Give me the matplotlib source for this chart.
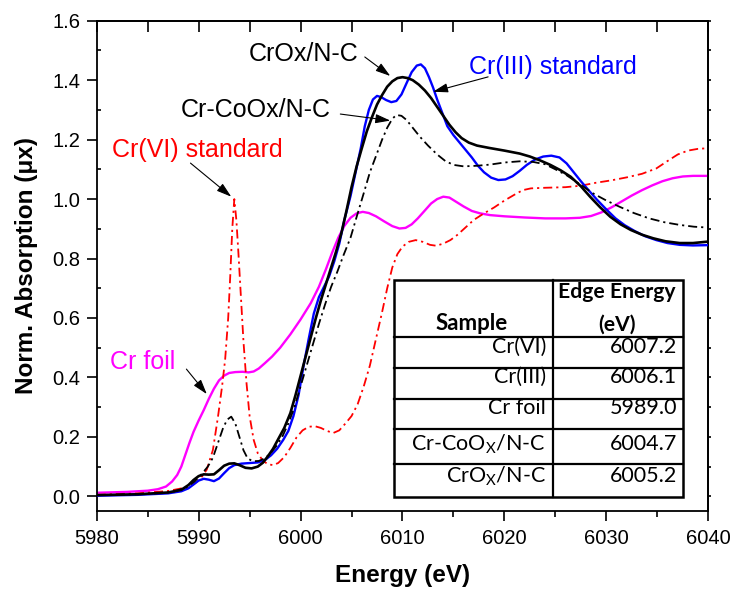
import numpy as np
import matplotlib
matplotlib.use("Agg")
import matplotlib.pyplot as plt
from matplotlib.ticker import MultipleLocator, NullLocator, FormatStrFormatter

plt.rcParams['font.family'] = ['Liberation Sans', 'DejaVu Sans']
plt.rcParams['mathtext.fontset'] = 'custom'
plt.rcParams['mathtext.rm'] = 'Lato'
plt.rcParams['mathtext.bf'] = 'Lato:bold'

# ---- Cr K-edge XANES spectra (energy in eV, normalized absorption) ----
foil_E = [5980, 5983, 5985, 5986, 5986.8, 5987.4, 5987.9, 5988.3, 5988.7, 5989.1,
          5989.5, 5990.0, 5990.5, 5991.0, 5991.5, 5992.0, 5992.5, 5993.0, 5993.6, 5994.3,
          5994.9, 5995.4, 5995.9, 5996.5, 5997.2, 5998.0, 5999.0, 6000.0, 6001.0, 6001.8,
          6002.5, 6003.1, 6003.7, 6004.3, 6004.9, 6005.5, 6006.1, 6006.7, 6007.4, 6008.2,
          6009.0, 6009.7, 6010.3, 6010.9, 6011.5, 6012.1, 6012.8, 6013.4, 6014.0, 6014.6,
          6015.3, 6016.0, 6016.8, 6017.6, 6018.6, 6020.0, 6022.0, 6024.0, 6026.0, 6027.4,
          6028.5, 6029.5, 6030.5, 6031.5, 6032.5, 6033.5, 6034.5, 6035.5, 6036.5, 6037.5,
          6038.5, 6040]
foil_mu = [0.012, 0.015, 0.019, 0.024, 0.033, 0.05, 0.072, 0.1, 0.14, 0.18,
           0.217, 0.255, 0.29, 0.328, 0.362, 0.39, 0.406, 0.415, 0.418, 0.419,
           0.417, 0.42, 0.43, 0.448, 0.47, 0.5, 0.545, 0.595, 0.65, 0.705,
           0.765, 0.82, 0.87, 0.91, 0.937, 0.952, 0.957, 0.953, 0.942, 0.925,
           0.909, 0.901, 0.903, 0.915, 0.935, 0.958, 0.985, 1.0, 1.008, 1.005,
           0.99, 0.975, 0.96, 0.952, 0.946, 0.942, 0.938, 0.935, 0.935, 0.937,
           0.943, 0.955, 0.972, 0.992, 1.012, 1.03, 1.046, 1.06, 1.07, 1.076,
           1.078, 1.078]

cr6_E = [5980, 5984, 5987, 5988.5, 5989.5, 5990.2, 5990.8, 5991.4, 5991.9, 5992.3,
         5992.6, 5992.9, 5993.1, 5993.3, 5993.5, 5993.7, 5993.9, 5994.1, 5994.4, 5994.7,
         5995.0, 5995.4, 5995.8, 5996.3, 5996.8, 5997.3, 5997.8, 5998.4, 5999.0, 5999.6,
         6000.2, 6000.8, 6001.4, 6002.0, 6002.6, 6003.2, 6003.8, 6004.4, 6005.0, 6005.6,
         6006.2, 6006.8, 6007.4, 6008.0, 6008.5, 6009.0, 6009.5, 6010.0, 6010.6, 6011.3,
         6012.0, 6012.7, 6013.3, 6014.0, 6014.7, 6015.4, 6016.2, 6017.0, 6018.0, 6019.0,
         6020.0, 6021.0, 6021.8, 6022.6, 6024.0, 6026.0, 6027.5, 6029.0, 6030.5, 6032.0,
         6033.5, 6034.9, 6036.0, 6037.0, 6038.0, 6039.0, 6040]
cr6_mu = [0.005, 0.01, 0.018, 0.028, 0.04, 0.06, 0.09, 0.156, 0.268, 0.37,
          0.46, 0.6, 0.74, 0.9, 1.0, 0.93, 0.82, 0.7, 0.52, 0.38,
          0.27, 0.19, 0.145, 0.12, 0.108, 0.105, 0.112, 0.132, 0.163, 0.198,
          0.222, 0.234, 0.236, 0.23, 0.22, 0.213, 0.222, 0.245, 0.27, 0.31,
          0.37, 0.44, 0.53, 0.62, 0.7, 0.77, 0.815, 0.84, 0.856, 0.862,
          0.856, 0.846, 0.843, 0.85, 0.862, 0.88, 0.905, 0.93, 0.952, 0.972,
          0.995, 1.015, 1.03, 1.036, 1.038, 1.04, 1.045, 1.055, 1.063, 1.073,
          1.085, 1.103, 1.128, 1.15, 1.163, 1.169, 1.171]

cr3_E = [5980, 5984, 5987, 5988.3, 5989.0, 5989.5, 5990.0, 5990.5, 5991.0, 5991.5,
         5992.0, 5992.5, 5993.0, 5993.5, 5994.2, 5995.0, 5995.8, 5996.5, 5997.1, 5997.7,
         5998.3, 5998.8, 5999.3, 5999.8, 6000.3, 6000.8, 6001.3, 6001.8, 6002.3, 6002.8,
         6003.3, 6003.8, 6004.3, 6004.9, 6005.4, 6005.9, 6006.3, 6006.7, 6007.1, 6007.5,
         6007.9, 6008.4, 6008.9, 6009.4, 6009.9, 6010.4, 6010.9, 6011.4, 6011.8, 6012.2,
         6012.6, 6013.0, 6013.4, 6013.9, 6014.4, 6015.0, 6015.6, 6016.2, 6016.8, 6017.4,
         6018.0, 6018.7, 6019.4, 6020.1, 6020.8, 6021.5, 6022.2, 6023.0, 6023.8, 6024.6,
         6025.4, 6026.1, 6026.8, 6027.5, 6028.3, 6029.1, 6030.0, 6030.9, 6031.8, 6032.8,
         6033.8, 6034.9, 6036.0, 6037.2, 6038.5, 6040]
cr3_mu = [0.002, 0.005, 0.01, 0.017, 0.027, 0.04, 0.053, 0.059, 0.056, 0.051,
          0.06, 0.078, 0.095, 0.105, 0.11, 0.112, 0.114, 0.122, 0.138, 0.16,
          0.19, 0.22, 0.27, 0.34, 0.44, 0.53, 0.615, 0.67, 0.705, 0.74,
          0.79, 0.85, 0.93, 1.01, 1.09, 1.17, 1.245, 1.3, 1.335, 1.347,
          1.343, 1.333, 1.326, 1.33, 1.352, 1.39, 1.427, 1.449, 1.453, 1.44,
          1.41, 1.375, 1.335, 1.29, 1.245, 1.215, 1.19, 1.165, 1.14, 1.112,
          1.09, 1.072, 1.064, 1.066, 1.077, 1.095, 1.115, 1.133, 1.143, 1.146,
          1.14, 1.12, 1.09, 1.06, 1.028, 0.997, 0.965, 0.935, 0.912, 0.892,
          0.875, 0.862, 0.852, 0.846, 0.844, 0.845]

crco_E = [5980, 5985, 5987.5, 5988.8, 5989.6, 5990.3, 5990.9, 5991.4, 5991.9, 5992.4,
          5992.8, 5993.2, 5993.6, 5994.0, 5994.4, 5994.8, 5995.3, 5995.9, 5996.5, 5997.0,
          5997.6, 5998.2, 5998.8, 5999.4, 6000.0, 6000.6, 6001.2, 6001.8, 6002.4, 6003.0,
          6003.6, 6004.2, 6004.9, 6005.5, 6006.2, 6006.8, 6007.5, 6008.0, 6008.5, 6009.0,
          6009.4, 6009.9, 6010.4, 6011.0, 6011.7, 6012.5, 6013.4, 6014.2, 6015.0, 6016.0,
          6017.3, 6018.6, 6020.0, 6021.5, 6022.8, 6024.0, 6025.0, 6026.1, 6027.4, 6028.7,
          6030.0, 6031.3, 6032.7, 6034.2, 6035.7, 6037.2, 6038.6, 6040]
crco_mu = [0.004, 0.008, 0.015, 0.03, 0.05, 0.075, 0.1, 0.13, 0.18, 0.23,
           0.258, 0.268, 0.245, 0.2, 0.155, 0.128, 0.118, 0.119, 0.128, 0.143,
           0.168, 0.2, 0.245, 0.3, 0.37, 0.44, 0.51, 0.58, 0.645, 0.705,
           0.755, 0.81, 0.87, 0.94, 1.02, 1.09, 1.154, 1.2, 1.24, 1.27,
           1.283, 1.28, 1.266, 1.24, 1.21, 1.18, 1.15, 1.128, 1.115, 1.11,
           1.112, 1.116, 1.123, 1.127, 1.125, 1.117, 1.1, 1.08, 1.05, 1.019,
           0.995, 0.974, 0.953, 0.935, 0.922, 0.913, 0.907, 0.904]

crox_E = [5980, 5984, 5987, 5988.3, 5989.0, 5989.5, 5990.0, 5990.5, 5991.0, 5991.5,
          5992.0, 5992.5, 5993.0, 5993.5, 5994.0, 5994.6, 5995.2, 5995.8, 5996.3, 5996.8,
          5997.3, 5997.8, 5998.4, 5999.0, 5999.5, 6000.0, 6000.5, 6001.0, 6001.5, 6002.0,
          6002.5, 6003.0, 6003.5, 6004.0, 6004.5, 6005.0, 6005.5, 6006.0, 6006.5, 6007.0,
          6007.5, 6008.0, 6008.5, 6009.0, 6009.5, 6010.0, 6010.5, 6011.0, 6011.6, 6012.2,
          6012.8, 6013.4, 6014.0, 6014.6, 6015.2, 6015.8, 6016.5, 6017.3, 6018.5, 6020.0,
          6021.5, 6022.5, 6023.5, 6024.5, 6025.5, 6026.5, 6027.5, 6028.4, 6029.4, 6030.4,
          6031.4, 6032.4, 6033.5, 6034.6, 6035.8, 6037.2, 6038.5, 6040]
crox_mu = [0.004, 0.007, 0.013, 0.022, 0.038, 0.055, 0.068, 0.074, 0.073, 0.074,
           0.088, 0.103, 0.11, 0.111, 0.105, 0.096, 0.094, 0.1, 0.113, 0.135,
           0.16, 0.192, 0.23, 0.28, 0.34, 0.405, 0.47, 0.535, 0.6, 0.66,
           0.715, 0.77, 0.825, 0.885, 0.96, 1.04, 1.11, 1.17, 1.228, 1.275,
           1.318, 1.35, 1.378, 1.396, 1.407, 1.41, 1.407, 1.4, 1.385, 1.365,
           1.34, 1.31, 1.28, 1.25, 1.225, 1.205, 1.19, 1.18, 1.172, 1.163,
           1.153, 1.143, 1.13, 1.115, 1.097, 1.075, 1.043, 1.008, 0.972, 0.94,
           0.915, 0.896, 0.88, 0.868, 0.858, 0.852, 0.852, 0.857]

# ---- edge-energy table ----
table_header = ["Sample", "Edge Energy", "(eV)"]
table_samples = ["Cr(VI)", "Cr(III)", "Cr foil", r"Cr-CoO$_\mathrm{X}$/N-C", r"CrO$_\mathrm{X}$/N-C"]
table_edges = ["6007.2", "6006.1", "5989.0", "6004.7", "6005.2"]

W, H = 732, 590
fig = plt.figure(figsize=(W / 100, H / 100), dpi=100)
ax = fig.add_axes([96.7 / W, 1 - 511.2 / H, (708.3 - 96.7) / W, (511.2 - 20.7) / H])

dash = (0, (5, 2.2, 1.2, 2.2))
line_kw = dict(solid_joinstyle='round', dash_joinstyle='round')
ax.plot(foil_E, foil_mu, color='#FF00FF', lw=1.7, zorder=2, **line_kw)
ax.plot(cr6_E, cr6_mu, color='#FF0000', lw=1.3, ls=dash, zorder=2, **line_kw)
ax.plot(cr3_E, cr3_mu, color='#0000FF', lw=1.7, zorder=3, **line_kw)
ax.plot(crco_E, crco_mu, color='black', lw=1.3, ls=dash, zorder=3, **line_kw)
ax.plot(crox_E, crox_mu, color='black', lw=1.9, zorder=4, **line_kw)

ax.set_xlim(5980, 6040)
ax.set_ylim(-0.05, 1.6)
ax.xaxis.set_major_locator(MultipleLocator(10))
ax.xaxis.set_minor_locator(MultipleLocator(5))
ax.yaxis.set_major_locator(MultipleLocator(0.2))
ax.yaxis.set_minor_locator(MultipleLocator(0.1))
ax.yaxis.set_major_formatter(FormatStrFormatter('%.1f'))

for s in ax.spines.values():
    s.set_linewidth(1.3)
ax.tick_params(axis='both', which='major', direction='out', length=7, width=1.2,
               labelsize=14.5, pad=5)
ax.tick_params(axis='x', which='minor', direction='out', length=4.5, width=1.2)
ax.tick_params(axis='y', which='minor', direction='in', length=3, width=1.2)
ax.tick_params(axis='x', which='major', pad=6)

# top axis: inward ticks every 5 eV
top = ax.secondary_xaxis('top')
top.set_xticks(np.arange(5980, 6041, 5))
top.set_xticklabels([])
top.xaxis.set_minor_locator(NullLocator())
top.tick_params(direction='in', length=8, width=1.2)
top.spines['top'].set_linewidth(1.3)

# right axis: short outward ticks every 0.1
right = ax.secondary_yaxis('right')
right.set_yticks(np.arange(0.0, 1.61, 0.1))
right.set_yticklabels([])
right.yaxis.set_minor_locator(NullLocator())
right.tick_params(direction='out', length=2.5, width=1.2)
right.spines['right'].set_linewidth(1.3)

ax.set_xlabel('Energy (eV)', fontsize=17.5, fontweight='bold', labelpad=11)
ax.set_ylabel('Norm. Absorption (\u03bcx)', fontsize=17.5, fontweight='bold', labelpad=10)

# curve labels with arrows
lab_kw = dict(fontsize=18, ha='center', va='center', zorder=6)
ax.text(6000.27, 1.488, 'CrOx/N-C', color='black', **lab_kw)
ax.text(5995.6, 1.300, 'Cr-CoOx/N-C', color='black', **lab_kw)
ax.text(5989.9, 1.165, 'Cr(VI) standard', color='#FF0000', **lab_kw)
ax.text(6024.8, 1.444, 'Cr(III) standard', color='#0000FF', **lab_kw)
ax.text(5984.5, 0.452, 'Cr foil', color='#FF00FF', **lab_kw)

arrow = dict(arrowstyle='-|>,head_length=0.9,head_width=0.28', color='black',
             lw=0.8, mutation_scale=10, shrinkA=0, shrinkB=0)
for tail, head in [((6006.3, 1.478), (6008.8, 1.414)),
                   ((6003.9, 1.286), (6008.8, 1.264)),
                   ((5989.2, 1.121), (5993.2, 1.008)),
                   ((6018.4, 1.411), (6013.0, 1.361)),
                   ((5988.8, 0.428), (5990.8, 0.344))]:
    ax.annotate('', xy=head, xytext=tail, arrowprops=arrow, zorder=6)

# table drawn in figure pixel space
def fx(px):
    return px / W

def fy(py):
    return 1 - py / H

x0, xm, x1 = 394, 553, 683
rows = [280, 337, 368, 398.5, 429, 463.5, 497]
fig.patches.append(plt.Rectangle((fx(x0), fy(rows[-1])), fx(x1) - fx(x0), fy(rows[0]) - fy(rows[-1]),
                                 transform=fig.transFigure, facecolor='white', edgecolor='black',
                                 lw=1.8, zorder=7))
for r in rows[1:-1]:
    fig.add_artist(plt.Line2D([fx(x0), fx(x1)], [fy(r), fy(r)], color='black', lw=1.6, zorder=8))
fig.add_artist(plt.Line2D([fx(xm), fx(xm)], [fy(rows[0]), fy(rows[-1])], color='black', lw=1.6, zorder=8))

tkw = dict(family='Lato', zorder=9)
fig.text(fx(472), fy(323), table_header[0], ha='center', va='center', fontweight='bold', fontsize=16, **tkw)
fig.text(fx(617), fy(292), table_header[1], ha='center', va='center', fontweight='bold', fontsize=15.2, **tkw)
fig.text(fx(617), fy(325), table_header[2], ha='center', va='center', fontweight='bold', fontsize=15.2, **tkw)
row_y = [347, 377, 408, 444, 476]
for name, edge, yy in zip(table_samples, table_edges, row_y):
    fig.text(fx(546), fy(yy), name, ha='right', va='center', fontsize=15.5, **tkw)
    fig.text(fx(677), fy(yy), edge, ha='right', va='center', fontsize=15.5, **tkw)

fig.savefig('out.png', dpi=100)
